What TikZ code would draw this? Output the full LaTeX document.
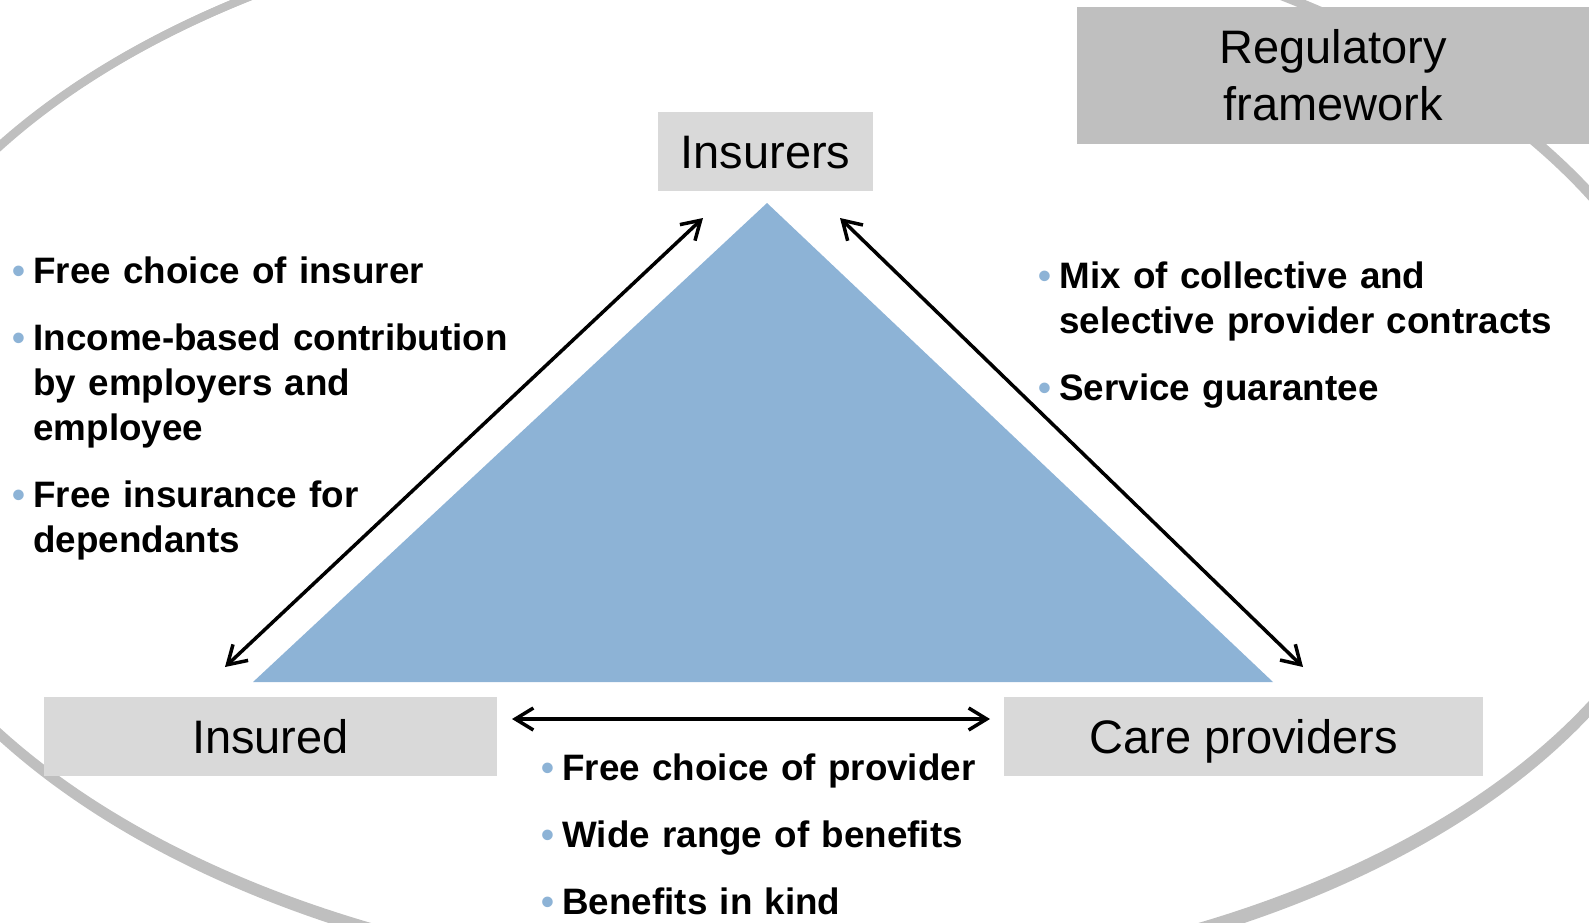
\documentclass[tikz,border=0pt]{standalone}
\usepackage{fontspec}
\setmainfont{Liberation Sans}
\usetikzlibrary{arrows.meta}

\definecolor{tricol}{RGB}{141,179,214}
\definecolor{boxgrey}{RGB}{217,217,217}
\definecolor{framegrey}{RGB}{191,191,191}

% bullet and hanging indent for the lists
\newcommand{\bul}{\makebox[10.5pt][l]{\textcolor{tricol}{\textbullet}}}
\newcommand{\ind}{\hspace*{10.5pt}}

\begin{document}
\begin{tikzpicture}[x=0.5pt,y=-0.5pt,
	actor/.style={fill=boxgrey, inner sep=0pt, minimum height=39.5pt,
		text height=17pt, text depth=0pt, font=\fontsize{23.5}{28.5}\selectfont},
	points/.style={inner sep=0pt, anchor=base west, text width=260pt, align=left,
		font=\fontsize{18.4}{22.5}\selectfont\bfseries},
	link/.style={{Straight Barb[length=9pt,width=11pt]}-{Straight Barb[length=9pt,width=11pt]},
		line width=1.75pt},
	ring/.style={draw=framegrey, line width=4pt}]
	\useasboundingbox (0,0) rectangle (1589,922);
	\clip (0,0) rectangle (1589,922);

	% regulatory ring
	\coordinate (mid) at (776,444);
	\draw[ring, shift={(mid)}, xslant=-0.018] (0,0) ellipse [x radius=462.5pt, y radius=270pt];
	\draw[ring, shift={(mid)}, xslant=-0.022] (0,3) ellipse [x radius=462pt, y radius=271.5pt];

	% triangle
	\fill[tricol] (767,203) -- (253,682) -- (1273,682) -- cycle;

	% actors
	\node[actor, minimum width=107.5pt] (insurers) at (765.5,151.5) {Insurers};
	\node[actor, minimum width=226.5pt] (insured) at (270.5,736.5) {Insured};
	\node[actor, minimum width=239.5pt] (care) at (1243.5,736.5) {Care providers};
	\node[fill=framegrey, inner sep=0pt, minimum width=256pt, minimum height=68.5pt,
		align=center, font=\fontsize{23.5}{28.5}\selectfont] (regframe) at (1333,75.5)
		{Regulatory\\framework};

	% arrow ends
	\coordinate (insurers-l) at (703,218);
	\coordinate (insurers-r) at (840,218);
	\coordinate (insured-t) at (225,667);
	\coordinate (insured-r) at (512,719);
	\coordinate (care-t) at (1303,667);
	\coordinate (care-l) at (990,719);

	\draw[link] (insurers-l) -- (insured-t);
	\draw[link] (insurers-r) -- (care-t);
	\draw[link] (insured-r) -- (care-l);

	% relations
	\node[points] (insurer-pts) at (12,283)
		{\bul Free choice of insurer\\[11pt]
		\bul Income-based contribution\\
		\ind by employers and\\
		\ind employee\\[11pt]
		\bul Free insurance for\\
		\ind dependants};
	\node[points] (provider-pts) at (1038,288)
		{\bul Mix of collective and\\
		\ind selective provider contracts\\[11pt]
		\bul Service guarantee};
	\node[points] (patient-pts) at (541,780)
		{\bul Free choice of provider\\[11pt]
		\bul Wide range of benefits\\[11pt]
		\bul Benefits in kind};
\end{tikzpicture}
\end{document}
